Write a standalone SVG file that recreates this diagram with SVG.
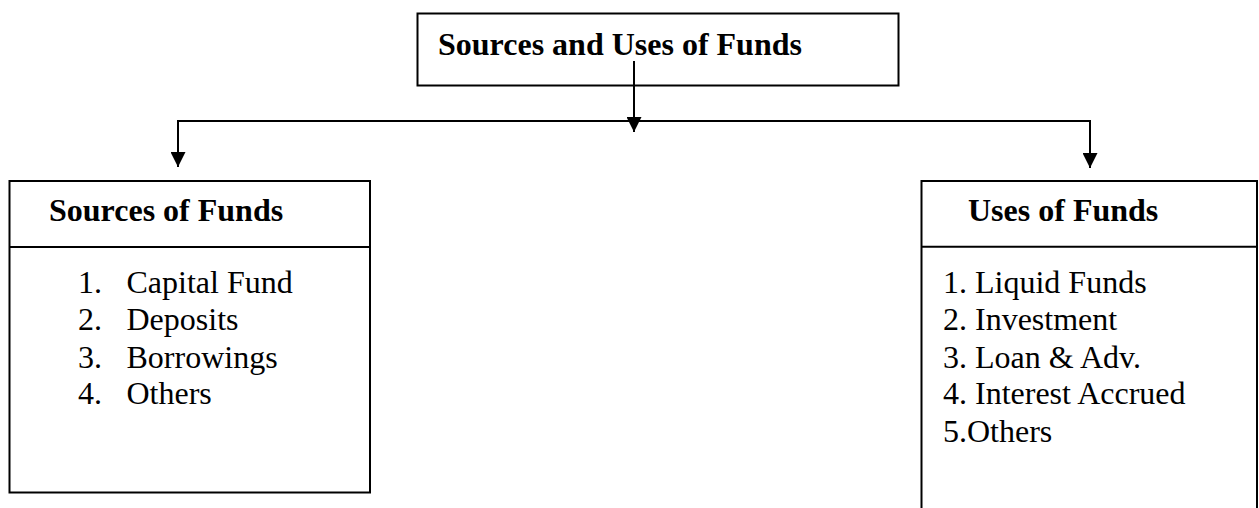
<svg xmlns="http://www.w3.org/2000/svg" width="1259" height="508" viewBox="0 0 1259 508">
<style>
.box{fill:#fff;stroke:#000;stroke-width:2}
.hd{font-family:"Liberation Serif","Times New Roman",serif;font-weight:bold;font-size:32px;fill:#000}
.tx{font-family:"Liberation Serif","Times New Roman",serif;font-size:32px;fill:#000}
.ln{stroke:#000;stroke-width:2;fill:none}
</style>
<defs>
<marker id="ah" markerWidth="15" markerHeight="15" viewBox="0 0 15 15" refX="15" refY="7.5" orient="auto" markerUnits="userSpaceOnUse">
<path d="M0,0 L15,7.5 L0,15 Z" fill="#000"/>
</marker>
</defs>
<g id="top">
<rect class="box" x="417.5" y="13.5" width="481" height="72"/>
<text class="hd" x="438" y="55">Sources and Uses of Funds</text>
</g>
<g id="connectors">
<line class="ln" x1="178" y1="121" x2="1091" y2="121"/>
<line class="ln" x1="634" y1="61" x2="634" y2="132" marker-end="url(#ah)"/>
<line class="ln" x1="178" y1="120" x2="178" y2="167" marker-end="url(#ah)"/>
<line class="ln" x1="1090" y1="120" x2="1090" y2="168" marker-end="url(#ah)"/>
</g>
<g id="sources">
<rect class="box" x="9.5" y="181" width="360.5" height="311.5"/>
<line class="ln" x1="9.5" y1="247" x2="370" y2="247"/>
<text class="hd" x="49" y="221">Sources of Funds</text>
<text class="tx" x="78" y="293">1.</text><text class="tx" x="126.5" y="293">Capital Fund</text>
<text class="tx" x="78" y="330">2.</text><text class="tx" x="126.5" y="330">Deposits</text>
<text class="tx" x="78" y="367.5">3.</text><text class="tx" x="126.5" y="367.5">Borrowings</text>
<text class="tx" x="78" y="404">4.</text><text class="tx" x="126.5" y="404">Others</text>
</g>
<g id="uses">
<rect class="box" x="921.5" y="181" width="335.5" height="340"/>
<line class="ln" x1="921.5" y1="246.7" x2="1257" y2="246.7"/>
<text class="hd" x="968" y="221">Uses of Funds</text>
<text class="tx" x="943" y="293">1. Liquid Funds</text>
<text class="tx" x="943" y="330">2. Investment</text>
<text class="tx" x="943" y="367.5">3. Loan &amp; Adv.</text>
<text class="tx" x="943" y="404">4. Interest Accrued</text>
<text class="tx" x="943" y="441.5">5.Others</text>
</g>
</svg>
